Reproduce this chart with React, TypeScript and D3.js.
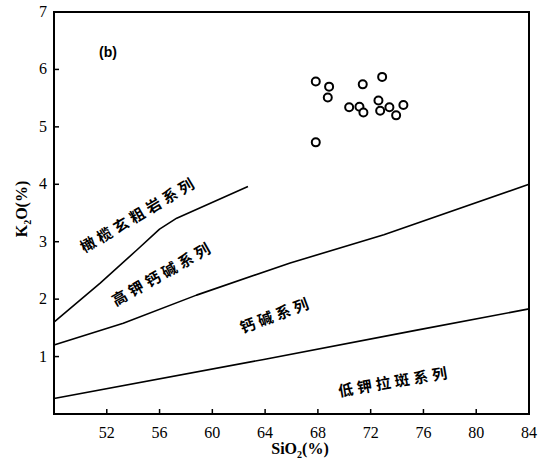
import React from "react";
import * as d3 from "d3";

const sampleSiO2 = [67.84, 68.85, 68.75, 71.4, 72.87, 70.37, 71.15, 71.45, 72.59, 72.72, 73.42, 73.93, 74.48, 67.84];
const sampleK2O = [5.79, 5.7, 5.51, 5.74, 5.87, 5.34, 5.35, 5.25, 5.46, 5.28, 5.34, 5.2, 5.38, 4.73];

const shoshoniteBoundarySiO2 = [48, 51.5, 54.3, 56.0, 57.3, 62.7];
const shoshoniteBoundaryK2O = [1.6, 2.28, 2.86, 3.22, 3.41, 3.96];

const highKBoundarySiO2 = [48, 53.25, 58.8, 65.9, 73.0, 84];
const highKBoundaryK2O = [1.2, 1.58, 2.07, 2.63, 3.12, 4.0];

const lowKBoundarySiO2 = [48, 63.9, 75.5, 84];
const lowKBoundaryK2O = [0.27, 0.95, 1.46, 1.83];

const xTicks = [52, 56, 60, 64, 68, 72, 76, 80, 84];
const yTicks = [1, 2, 3, 4, 5, 6, 7];

const seriesLabels = ["橄榄玄粗岩系列", "高钾钙碱系列", "钙碱系列", "低钾拉斑系列"];
const seriesLabelSiO2 = [54.4, 56.2, 64.8, 73.8];
const seriesLabelK2O = [3.49, 2.46, 1.74, 0.58];
const seriesLabelAngle = [-30.7, -29.6, -20.6, -9.7];

const W = 544;
const H = 466;
const left = 54, right = 529, top = 12, bottom = 414;

export default function App() {
  const x = d3.scaleLinear().domain([48, 84]).range([left, right]);
  const y = d3.scaleLinear().domain([0, 7]).range([bottom, top]);
  const line = d3.line<[number, number]>().x(d => x(d[0])).y(d => y(d[1]));
  const mk = (xs: number[], ys: number[]) => xs.map((v, i) => [v, ys[i]] as [number, number]);
  const lines = [
    mk(shoshoniteBoundarySiO2, shoshoniteBoundaryK2O),
    mk(highKBoundarySiO2, highKBoundaryK2O),
    mk(lowKBoundarySiO2, lowKBoundaryK2O),
  ];
  const serif = "'Liberation Serif', 'DejaVu Serif', serif";
  return (
    <svg width={W} height={H} style={{ position: "absolute", left: 0, top: 0, background: "#fff" }}>
      <rect x={0} y={0} width={W} height={H} fill="#fff" />
      {lines.map((l, i) => (
        <path key={i} d={line(l) || ""} fill="none" stroke="#000" strokeWidth={1.6} strokeLinejoin="round" />
      ))}
      <rect x={left} y={top} width={right - left} height={bottom - top} fill="none" stroke="#000" strokeWidth={2} />
      {xTicks.map(t => (
        <g key={"x" + t}>
          <line x1={x(t)} x2={x(t)} y1={bottom} y2={bottom - 5} stroke="#000" strokeWidth={1.5} />
          <text x={x(t)} y={438} textAnchor="middle" fontFamily={serif} fontSize={16} fill="#000">{t}</text>
        </g>
      ))}
      {yTicks.map(t => (
        <g key={"y" + t}>
          <line x1={left} x2={left + 5} y1={y(t)} y2={y(t)} stroke="#000" strokeWidth={1.5} />
          <text x={47} y={y(t) + 5} textAnchor="end" fontFamily={serif} fontSize={16} fill="#000">{t}</text>
        </g>
      ))}
      <text x={300} y={454} textAnchor="middle" fontFamily={serif} fontSize={16} fontWeight="bold" fill="#000">
        SiO<tspan fontSize={10} dy={4}>2</tspan><tspan dy={-4}>(%)</tspan>
      </text>
      <text transform="translate(27,209) rotate(-90)" textAnchor="middle" fontFamily={serif} fontSize={16} fontWeight="bold" fill="#000">
        K<tspan fontSize={10} dy={4}>2</tspan><tspan dy={-4}>O(%)</tspan>
      </text>
      <text x={108} y={57} textAnchor="middle" fontFamily="'Liberation Sans', Arial, sans-serif" fontSize={14} fontWeight="bold" fill="#000">(b)</text>
      {seriesLabels.map((s, i) => (
        <text key={s} transform={`translate(${x(seriesLabelSiO2[i])},${y(seriesLabelK2O[i])}) rotate(${seriesLabelAngle[i]})`}
          textAnchor="middle" dominantBaseline="central" fontFamily="'Noto Sans CJK SC', sans-serif" fontSize={15}
          fontWeight="bold" letterSpacing={4} fill="#000">{s}</text>
      ))}
      {sampleSiO2.map((v, i) => (
        <circle key={i} cx={x(v)} cy={y(sampleK2O[i])} r={4} fill="#fff" stroke="#000" strokeWidth={2} />
      ))}
    </svg>
  );
}
